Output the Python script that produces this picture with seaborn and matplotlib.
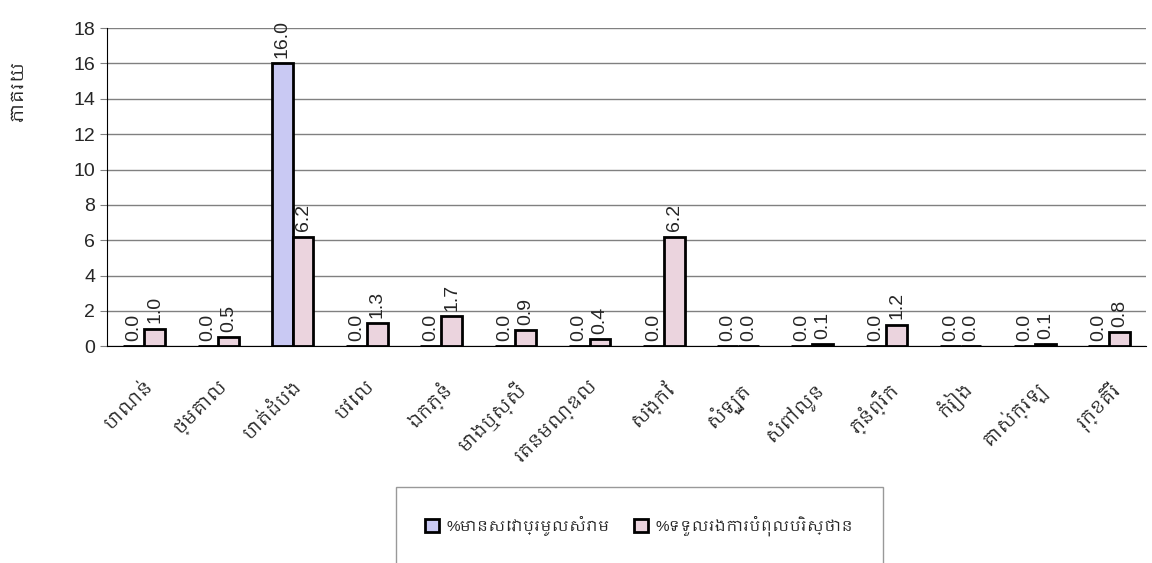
import numpy as np
import pandas as pd
import matplotlib
matplotlib.use("Agg")
import matplotlib.pyplot as plt
from matplotlib import font_manager
import seaborn as sns

# districts (Khmer)
districts = ["បាណន់", "ថ្មគោល", "បាត់ដំបង", "បវេល", "ឯកភ្នំ", "មោងឬស្សី", "រតនមណ្ឌល",
             "សង្កែ", "សំឡូត", "សំពៅលូន", "ភ្នំព្រឹក", "កំរៀង", "គាស់ក្រឡ", "រុក្ខគិរី"]
series_names = ["%មានសេវាប្រមូលសំរាម", "%ទទួលរងការបំពុលបរិស្ថាន"]
waste_service = [0.0, 0.0, 16.0, 0.0, 0.0, 0.0, 0.0, 0.0, 0.0, 0.0, 0.0, 0.0, 0.0, 0.0]
pollution = [1.0, 0.5, 6.2, 1.3, 1.7, 0.9, 0.4, 6.2, 0.0, 0.1, 1.2, 0.0, 0.1, 0.8]
y_label = "ភាគរយ"

df = pd.DataFrame({
    "district": districts * 2,
    "series": [series_names[0]] * len(districts) + [series_names[1]] * len(districts),
    "value": waste_service + pollution,
})

sns.set_style("white")

# look for any font with Khmer in its name, else fall back
khmer = [f.name for f in font_manager.fontManager.ttflist if "khmer" in f.name.lower()]
fams = ["Liberation Sans"] + khmer[:1] + ["DejaVu Sans"]
plt.rcParams["font.family"] = fams

fig, ax = plt.subplots(figsize=(11.52, 5.63), dpi=100)
fig.subplots_adjust(left=0.093, right=0.995, top=0.95, bottom=0.385)

sns.barplot(data=df, x="district", y="value", hue="series", ax=ax,
            palette=["#C2C2FA", "#EFD0DE"], width=0.56, gap=0,
            edgecolor="black", linewidth=2, legend=True)

for cont in ax.containers:
    ax.bar_label(cont, fmt="%.1f", rotation=90, padding=4, fontsize=14)

ax.set_ylim(0, 18)
ax.set_yticks(np.arange(0, 19, 2))
ax.tick_params(axis="y", labelsize=14, length=5, direction="out", left=True, color="#808080")
ax.yaxis.grid(True, color="#808080", linewidth=1)
ax.set_axisbelow(True)
for s in ["top", "right"]:
    ax.spines[s].set_visible(False)
ax.spines["left"].set_color("black")
ax.spines["bottom"].set_color("black")

ax.set_xlim(-0.5, len(districts) - 0.5)
ax.set_xticks(np.arange(len(districts)))
ax.set_xticklabels(districts, rotation=45, ha="right", rotation_mode="anchor", fontsize=13)
ax.tick_params(axis="x", length=0, pad=22)
ax.set_xticks(np.arange(-0.5, len(districts), 1), minor=True)
ax.tick_params(axis="x", which="minor", length=6, color="#808080")
ax.set_xlabel("")

ax.set_ylabel(y_label, fontsize=13, fontweight="bold")
ax.yaxis.set_label_coords(-0.077, 0.8)

h, l = ax.get_legend_handles_labels()
ax.get_legend().remove()
leg = fig.legend(h, l, loc="upper center", bbox_to_anchor=(0.555, 0.135), ncol=2,
                 frameon=True, fancybox=False, edgecolor="#808080", fontsize=11,
                 borderpad=1.9, handlelength=0.9, handleheight=0.9, columnspacing=1.6,
                 handletextpad=0.5, borderaxespad=0)
leg.get_frame().set_linewidth(1)

fig.savefig("out.png", dpi=100)
